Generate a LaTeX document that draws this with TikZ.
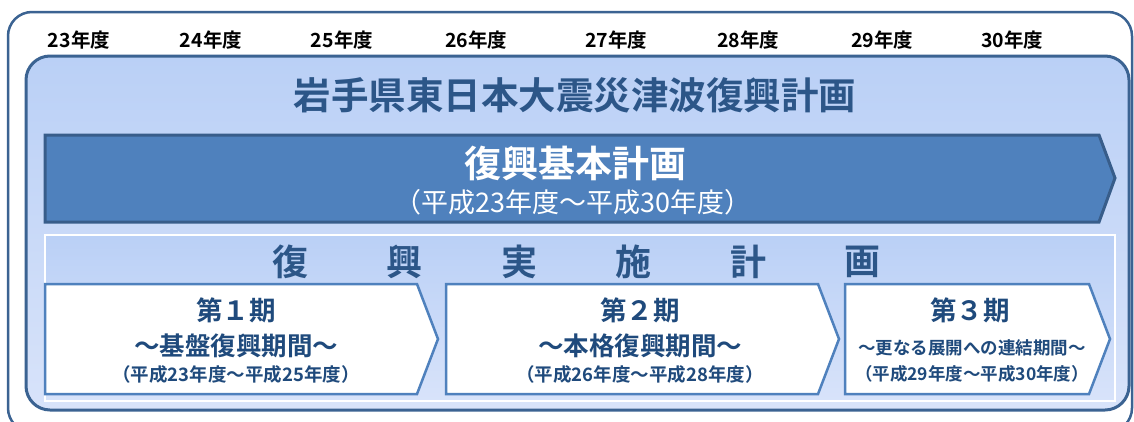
\documentclass[tikz,border=0pt]{standalone}
\usepackage{fontspec}
\setmainfont{Noto Sans CJK JP}[BoldFont={Noto Sans CJK JP Bold}]
\definecolor{frameblue}{HTML}{3B6392}
\definecolor{innertop}{HTML}{BAD0F6}
\definecolor{innerbot}{HTML}{D8E3FA}
\definecolor{arrowfill}{HTML}{4F81BD}
\definecolor{arrowline}{HTML}{385D8A}
\definecolor{titleblue}{HTML}{2C5688}
\definecolor{phaseblue}{HTML}{1F4A7C}
\definecolor{phaseline}{HTML}{4F81BD}
\begin{document}
\begin{tikzpicture}[x=1pt,y=-1pt,
  yr/.style={font=\bfseries\fontsize{19.5}{19.5}\selectfont, text=black, inner sep=0pt},
  ttl/.style={font=\bfseries\fontsize{37.5}{37.5}\selectfont, text=titleblue, inner sep=0pt},
  big/.style={font=\bfseries\fontsize{37}{37}\selectfont, text=white, inner sep=0pt},
  bigsub/.style={font=\fontsize{27}{27}\selectfont, text=white, inner sep=0pt},
  impl/.style={font=\bfseries\fontsize{36}{36}\selectfont, text=titleblue, inner sep=0pt},
  ph1/.style={font=\bfseries\fontsize{26.5}{26.5}\selectfont, text=phaseblue, inner sep=0pt},
  ph2/.style={font=\bfseries\fontsize{25.5}{25.5}\selectfont, text=phaseblue, inner sep=0pt},
  ph2s/.style={font=\bfseries\fontsize{18.5}{18.5}\selectfont, text=phaseblue, inner sep=0pt},
  ph3/.style={font=\bfseries\fontsize{17.5}{17.5}\selectfont, text=phaseblue, inner sep=0pt},
  phasebox/.style={draw=phaseline, line width=2.5pt, fill=white, line join=miter}
]
\useasboundingbox (0,0) rectangle (1134,421);
% outer frame
\draw[frameblue, line width=2.5pt, rounded corners=24pt, fill=white] (8,12) rectangle (1132,432);
% years
\foreach \x/\y in {79/23,211/24,342/25,476/26,616/27,748/28,882/29,1012/30}
  \node[yr] (y\y) at (\x,40) {\y 年度};
% inner panel
\draw[frameblue, line width=3pt, rounded corners=24pt, top color=innertop, bottom color=innerbot] (26,56) rectangle (1129,410);
\node[ttl] (title) at (575,95) {岩手県東日本大震災津波復興計画};
% big arrow
\draw[arrowline, line width=3pt, fill=arrowfill, line join=miter] (45,135) -- (1099,135) -- (1115,178) -- (1099,222) -- (45,222) -- cycle;
\node[big] (basic) at (575,163) {復興基本計画};
\node[bigsub] (basicsub) at (573,202) {（平成23年度～平成30年度）};
% implementation area
\draw[white, line width=2.5pt, top color=innertop, bottom color=innerbot] (45,235) rectangle (1115,401);
\foreach \c [count=\i] in {復,興,実,施,計,画}
  \node[impl] (im\i) at ({290+114.5*(\i-1)},262) {\c};
% phases
\draw[phasebox] (45,284) -- (417,284) -- (438,339) -- (417,394) -- (45,394) -- cycle;
\draw[phasebox] (446,284) -- (818,284) -- (839,339) -- (818,394) -- (446,394) -- cycle;
\draw[phasebox] (845,284) -- (1089,284) -- (1110,339) -- (1089,394) -- (845,394) -- cycle;
\node[ph1] (p1a) at (236,310) {第１期};
\node[ph2] (p1b) at (236,346) {～基盤復興期間～};
\node[ph2s] (p1c) at (236,374) {（平成23年度～平成25年度）};
\node[ph1] (p2a) at (640,310) {第２期};
\node[ph2] (p2b) at (640,346) {～本格復興期間～};
\node[ph2s] (p2c) at (640,374) {（平成26年度～平成28年度）};
\node[ph1] (p3a) at (970,310) {第３期};
\node[ph3] (p3b) at (972,348) {～更なる展開への連結期間～};
\node[ph3] (p3c) at (972,374) {（平成29年度～平成30年度）};
\end{tikzpicture}
\end{document}
